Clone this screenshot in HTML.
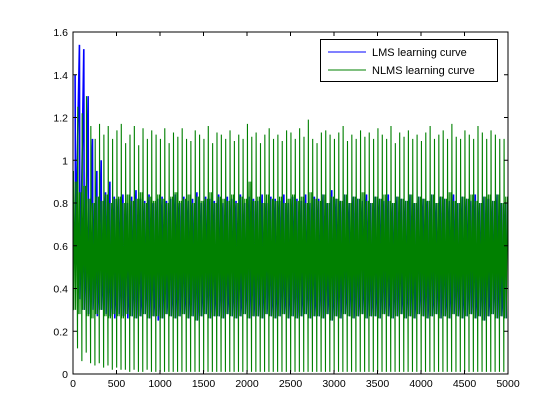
<!DOCTYPE html>
<html><head><meta charset="utf-8"><style>
body{margin:0;background:#fff;}
svg{display:block;font-family:"Liberation Sans",sans-serif;font-size:10.5px;}
</style></head><body>
<svg id="chart" width="560" height="420" style="position:absolute;left:0;top:0">
<rect width="560" height="420" fill="#fff"/>
<g id="plot"></g>
<g id="axes"></g>
</svg>
<script>
const xTicks=[0,500,1000,1500,2000,2500,3000,3500,4000,4500,5000];
const yTicks=[0,0.2,0.4,0.6,0.8,1,1.2,1.4,1.6];
const yTickLabels=["0","0.2","0.4","0.6","0.8","1","1.2","1.4","1.6"];
const cycleLen=50;
const greenPeak=[0.95,1.25,1.22,1.3,1.16,1.1,1.17,1.12,1.16,1.1,1.14,1.17,1.08,1.12,1.16,1.07,1.15,1.1,1.14,1.12,
1.1,1.15,1.08,1.13,1.11,1.15,1.1,1.09,1.14,1.12,1.1,1.16,1.08,1.13,1.12,1.1,1.14,1.09,1.12,1.1,
1.17,1.11,1.13,1.08,1.12,1.15,1.1,1.12,1.09,1.14,1.13,1.1,1.15,1.11,1.19,1.1,1.08,1.13,1.14,1.12,
1.1,1.13,1.16,1.09,1.12,1.1,1.14,1.11,1.13,1.1,1.15,1.12,1.1,1.16,1.08,1.13,1.11,1.14,1.1,1.12,
1.09,1.13,1.16,1.1,1.12,1.14,1.1,1.17,1.11,1.1,1.14,1.12,1.1,1.16,1.13,1.1,1.14,1.12,1.1,1.1];
const greenHigh=[0.9,0.85,0.88,0.82,0.8,0.83,0.81,0.84,0.8,0.82,0.83,0.8,0.84,0.81,0.82,0.85,0.8,0.83,0.81,0.84,
0.82,0.8,0.83,0.85,0.81,0.82,0.84,0.8,0.83,0.81,0.82,0.85,0.8,0.83,0.82,0.81,0.84,0.8,0.83,0.82,
0.9,0.81,0.83,0.8,0.84,0.82,0.81,0.83,0.8,0.82,0.84,0.81,0.83,0.8,0.85,0.82,0.81,0.84,0.8,0.83,
0.82,0.81,0.84,0.8,0.83,0.82,0.85,0.81,0.8,0.83,0.82,0.84,0.81,0.8,0.83,0.82,0.81,0.84,0.8,0.83,
0.82,0.81,0.84,0.8,0.83,0.82,0.85,0.81,0.8,0.83,0.82,0.84,0.81,0.8,0.83,0.84,0.81,0.84,0.8,0.83];
const greenLow=[0.3,0.28,0.3,0.27,0.26,0.28,0.3,0.27,0.26,0.28,0.27,0.26,0.28,0.27,0.26,0.27,0.28,0.26,0.27,0.27,
0.26,0.28,0.27,0.26,0.27,0.28,0.26,0.27,0.25,0.27,0.28,0.26,0.27,0.27,0.26,0.28,0.27,0.26,0.27,0.28,
0.26,0.27,0.27,0.26,0.28,0.27,0.26,0.27,0.28,0.26,0.27,0.26,0.27,0.28,0.26,0.27,0.27,0.26,0.28,0.25,
0.27,0.26,0.28,0.27,0.26,0.27,0.28,0.26,0.27,0.27,0.26,0.28,0.27,0.26,0.27,0.28,0.26,0.27,0.26,0.28,
0.27,0.26,0.27,0.28,0.26,0.27,0.26,0.28,0.27,0.26,0.27,0.28,0.26,0.27,0.25,0.27,0.28,0.26,0.27,0.26];
const greenMin=[0.3,0.12,0.06,0.1,0.05,0.04,0.05,0.03,0.04,0.02,0.03,0.02,0.02,0.01,0.02,0.01,0.01,0.02,0.01,0.01,
0.01,0.01,0.01,0.01,0.01,0.01,0.01,0.01,0.01,0.01,0.01,0.01,0.01,0.01,0.01,0.01,0.01,0.01,0.01,0.01,
0.01,0.01,0.01,0.01,0.01,0.01,0.01,0.01,0.01,0.01,0.01,0.01,0.01,0.01,0.01,0.01,0.01,0.01,0.01,0.01,
0.01,0.01,0.01,0.01,0.01,0.01,0.01,0.01,0.01,0.01,0.01,0.01,0.01,0.01,0.01,0.01,0.01,0.01,0.01,0.01,
0.01,0.01,0.01,0.01,0.01,0.01,0.01,0.01,0.01,0.01,0.01,0.01,0.01,0.01,0.01,0.01,0.01,0.01,0.01,0.01];
const lmsHigh=[1.4,1.54,1.52,1.3,1.1,0.95,1.0,0.85,0.9,0.83,0.82,0.84,0.8,0.83,0.86,0.82,0.81,0.84,0.8,0.82,
0.83,0.81,0.82,0.84,0.8,0.83,0.81,0.82,0.85,0.8,0.83,0.82,0.81,0.84,0.8,0.83,0.82,0.81,0.84,0.8,
0.83,0.82,0.81,0.84,0.8,0.83,0.82,0.81,0.84,0.8,0.83,0.82,0.81,0.84,0.8,0.83,0.82,0.84,0.8,0.86,
0.82,0.81,0.84,0.8,0.83,0.82,0.81,0.84,0.8,0.83,0.82,0.81,0.84,0.8,0.83,0.82,0.81,0.84,0.8,0.83,
0.82,0.81,0.84,0.8,0.83,0.82,0.81,0.84,0.8,0.83,0.82,0.81,0.84,0.8,0.83,0.82,0.81,0.84,0.8,0.8];
const lmsLow=[0.6,0.35,0.3,0.28,0.3,0.27,0.3,0.28,0.27,0.26,0.28,0.27,0.26,0.27,0.26,0.27,0.28,0.26,0.27,0.25,
0.26,0.28,0.27,0.26,0.27,0.28,0.26,0.27,0.25,0.27,0.28,0.26,0.27,0.27,0.26,0.28,0.27,0.26,0.27,0.28,
0.26,0.27,0.27,0.26,0.28,0.27,0.26,0.27,0.28,0.26,0.27,0.26,0.27,0.28,0.26,0.27,0.27,0.26,0.28,0.25,
0.27,0.26,0.28,0.27,0.26,0.27,0.28,0.26,0.27,0.27,0.26,0.28,0.27,0.26,0.27,0.28,0.26,0.27,0.26,0.28,
0.27,0.26,0.27,0.28,0.26,0.27,0.26,0.28,0.27,0.26,0.27,0.28,0.26,0.27,0.25,0.27,0.28,0.26,0.27,0.26];

const L=73,R=508,T=32,B=374;
const xs=v=>L+(v/5000)*(R-L);
const ys=v=>B-(v/1.6)*(B-T);
const NS="http://www.w3.org/2000/svg";
const plot=document.getElementById('plot'),axes=document.getElementById('axes');
function mk(tag,attrs,parent){const e=document.createElementNS(NS,tag);for(const k in attrs)e.setAttribute(k,attrs[k]);parent.appendChild(e);return e;}

let bp=[];
lmsHigh.forEach((v,k)=>{const b=k*cycleLen;
 bp.push([b+24,v]);bp.push([b+30,lmsLow[k]]);});
const blue=mk('polyline',{points:bp.map(p=>xs(p[0]).toFixed(2)+','+ys(p[1]).toFixed(2)).join(' '),fill:'none',stroke:'#0000ff','stroke-width':1.6},plot);


let gp=[];
greenPeak.forEach((v,k)=>{const b=k*cycleLen;
 gp.push([b,greenLow[k]]);gp.push([b+2,greenMin[k]]);gp.push([b+5,v]);gp.push([b+10,greenLow[k]]);
 gp.push([b+24,greenHigh[k]]);gp.push([b+30,greenLow[k]]);gp.push([b+44,greenHigh[k]]);});
const green=mk('polyline',{points:gp.map(p=>xs(p[0]).toFixed(2)+','+ys(p[1]).toFixed(2)).join(' '),fill:'none',stroke:'#008000','stroke-width':1.1},plot);



const box=mk('rect',{x:L,y:T,width:R-L,height:B-T,fill:'none',stroke:'#000','stroke-width':1},axes);


xTicks.forEach(t=>{const x=xs(t);
 mk('line',{x1:x,y1:B,x2:x,y2:B-4,stroke:'#000'},axes);
 mk('line',{x1:x,y1:T,x2:x,y2:T+4,stroke:'#000'},axes);
 const tx=mk('text',{x:x,y:B+13,'text-anchor':'middle'},axes);tx.textContent=t;
 
 
});
yTicks.forEach((t,i)=>{const y=ys(t);
 mk('line',{x1:L,y1:y,x2:L+4,y2:y,stroke:'#000'},axes);
 mk('line',{x1:R,y1:y,x2:R-4,y2:y,stroke:'#000'},axes);
 const tx=mk('text',{x:L-5,y:y+4,'text-anchor':'end'},axes);tx.textContent=yTickLabels[i];
 
 
});
</script>
<svg style="position:absolute;left:0;top:0" width="560" height="420">
<g font-family="Liberation Sans, sans-serif" font-size="11">
<rect x="320.5" y="39.5" width="177" height="42" fill="#fff" stroke="#000"/>
<line x1="328" y1="52" x2="366" y2="52" stroke="#0000ff"/>
<text x="372" y="56">LMS learning curve</text>
<line x1="328" y1="70" x2="366" y2="70" stroke="#008000"/>
<text x="372" y="74">NLMS learning curve</text>
</g>
</svg>
</body></html>
